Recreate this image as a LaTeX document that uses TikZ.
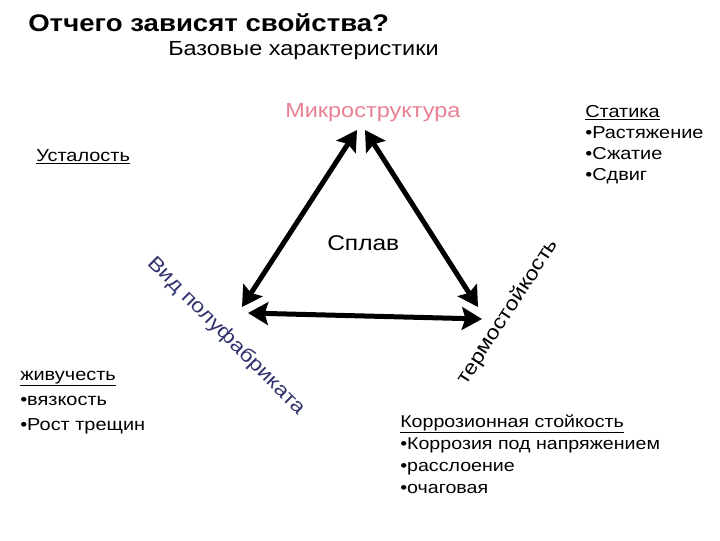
\documentclass[tikz,border=0pt]{standalone}
\usepackage{fontspec}
\setmainfont{Liberation Sans}[FakeStretch=1.15]
\usetikzlibrary{arrows.meta}
\definecolor{micro}{RGB}{232,128,145}
\definecolor{navy}{RGB}{50,50,110}

\begin{document}
\begin{tikzpicture}[x=0.75pt,y=-0.75pt,
    txt/.style={inner sep=0pt,anchor=base west,font=\fontsize{15.3}{18}\selectfont},
    lst/.style={txt,align=left},
    slant/.style={inner sep=0pt,font=\fontsize{15}{18}\selectfont},
    link/.style={line width=3.75pt,{Stealth[length=15pt,width=17pt,inset=2.5pt]}-{Stealth[length=15pt,width=17pt,inset=2.5pt]}}]
  \useasboundingbox (0,0) rectangle (720,540);
  % headings
  \node[txt,font=\bfseries\fontsize{18}{22}\selectfont] (title) at (28,31) {Отчего зависят свойства?};
  \node[txt] (basic) at (168,55) {Базовые характеристики};
  % triangle corners
  \coordinate (mkl) at (357,130);
  \coordinate (mkr) at (365,130);
  \coordinate (vidu) at (242,307);
  \coordinate (vidd) at (248,313);
  \coordinate (termu) at (478,307);
  \coordinate (termd) at (482,319);
  \draw[link] (mkl) -- (vidu);
  \draw[link] (mkr) -- (termu);
  \draw[link] (vidd) -- (termd);
  % labels (lists are placed by their last baseline)
  \node[txt,text=micro] (micro) at (285,117) {Микроструктура};
  \node[txt,font=\fontsize{16}{18}\selectfont] (alloy) at (327,250) {Сплав};
  \node[slant,rotate=-45,text=navy] (semi) at (226,336) {Вид полуфабриката};
  \node[slant,rotate=57] (heat) at (508,312) {термостойкость};
  \node[txt,font=\fontsize{13}{16}\selectfont] (fatigue) at (36,161) {\underline{Усталость}};
  \node[lst,font=\fontsize{13}{15.75}\selectfont] (static) at (585,180) {\underline{Статика}\\•Растяжение\\•Сжатие\\•Сдвиг};
  \node[lst,font=\fontsize{13}{18.75}\selectfont] (surv) at (20,430) {\underline{живучесть}\\•вязкость\\•Рост трещин};
  \node[lst,font=\fontsize{12.8}{16.5}\selectfont] (corr) at (400,493) {\underline{Коррозионная стойкость}\\•Коррозия под напряжением\\•расслоение\\•очаговая};
\end{tikzpicture}
\end{document}
